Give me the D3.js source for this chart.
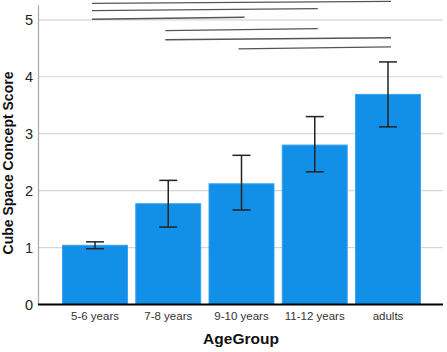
<!DOCTYPE html>
<html><head><meta charset="utf-8">
<script src="https://cdn.jsdelivr.net/npm/d3@7"></script>
<style>body{margin:0;background:#fff}svg{display:block}text{font-family:"Liberation Sans",Arial,sans-serif}</style>
</head><body><svg id="c" width="447" height="352"></svg>
<script>
const categories = ["5-6 years","7-8 years","9-10 years","11-12 years","adults"];
const means = [1.04, 1.77, 2.12, 2.80, 3.69];
const ciLow = [0.98, 1.36, 1.66, 2.33, 3.12];
const ciHigh = [1.10, 2.18, 2.62, 3.30, 4.26];
const yTicks = [0,1,2,3,4,5];
const compFrom = [0, 0, 0, 1, 1, 2];
const compTo   = [4, 3, 2, 3, 4, 4];
const compLevel = [5.29, 5.16, 5.01, 4.81, 4.65, 4.49];

(function(){
const svg = d3.select("#c");
const mLeft = 38, mRight = 445, mTop = 5, mBottom = 304.5;
const x = d3.scaleBand().domain(categories).range([mLeft, mRight]).paddingInner(0.099).paddingOuter(0.328);
const y = d3.scaleLinear().domain([0, 5.26]).range([mBottom, mTop]);

// grid
svg.append("g").selectAll("line").data(yTicks.filter(d=>d>0)).join("line")
  .attr("x1", mLeft).attr("x2", 443).attr("y1", d=>y(d)).attr("y2", d=>y(d))
  .attr("stroke", "#d6d6d6").attr("stroke-width", 1.2);

// y axis
const ya = svg.append("g").attr("transform", `translate(${mLeft},0)`)
  .call(d3.axisLeft(y).tickValues(yTicks).tickSize(0).tickPadding(5).tickFormat(d3.format("d")));
ya.select(".domain").attr("stroke", "#a8a8a8").attr("stroke-width", 1.2);
ya.selectAll("text").attr("font-size", 14.5).attr("fill", "#222");

// bars
svg.append("g").selectAll("rect").data(categories).join("rect")
  .attr("x", d=>x(d)+0.5).attr("width", x.bandwidth()-1)
  .attr("y", (d,i)=>y(means[i])).attr("height", (d,i)=>y(0)-y(means[i]))
  .attr("fill", "#128fe6").attr("stroke", "#3aa3f2").attr("stroke-width", 1);

// error bars
const eb = svg.append("g").attr("stroke", "#222").attr("stroke-width", 1.5);
categories.forEach((c,i)=>{
  const cx = x(c) + x.bandwidth()/2;
  eb.append("line").attr("x1", cx).attr("x2", cx).attr("y1", y(ciLow[i])).attr("y2", y(ciHigh[i]));
  eb.append("line").attr("x1", cx-9).attr("x2", cx+9).attr("y1", y(ciLow[i])).attr("y2", y(ciLow[i]));
  eb.append("line").attr("x1", cx-9).attr("x2", cx+9).attr("y1", y(ciHigh[i])).attr("y2", y(ciHigh[i]));
});

// x axis
const xa = svg.append("g").attr("transform", `translate(0,${mBottom})`)
  .call(d3.axisBottom(x).tickSize(0).tickPadding(7));
xa.select(".domain").remove();
svg.append("line").attr("x1", mLeft).attr("x2", 443).attr("y1", mBottom).attr("y2", mBottom)
  .attr("stroke", "#000").attr("stroke-width", 2.2);
xa.selectAll("text").attr("font-size", 11.5).attr("fill", "#333");

// significance lines
const sg = svg.append("g").attr("stroke", "#555").attr("stroke-width", 1.3);
compFrom.forEach((f,i)=>{
  const x1 = x(categories[f]) + x.bandwidth()/2 - 3;
  const x2 = x(categories[compTo[i]]) + x.bandwidth()/2 + 3;
  sg.append("line").attr("x1", x1).attr("x2", x2).attr("y1", y(compLevel[i])).attr("y2", y(compLevel[i]) - 2);
});

// titles
svg.append("text").attr("x", 241).attr("y", 344).attr("text-anchor", "middle")
  .attr("font-size", 15.5).attr("font-weight", "bold").attr("fill", "#111").text("AgeGroup");
svg.append("text").attr("transform", "translate(13,163) rotate(-90)").attr("text-anchor", "middle")
  .attr("font-size", 14).attr("font-weight", "bold").attr("fill", "#111").text("Cube Space Concept Score");
})();
</script></body></html>
